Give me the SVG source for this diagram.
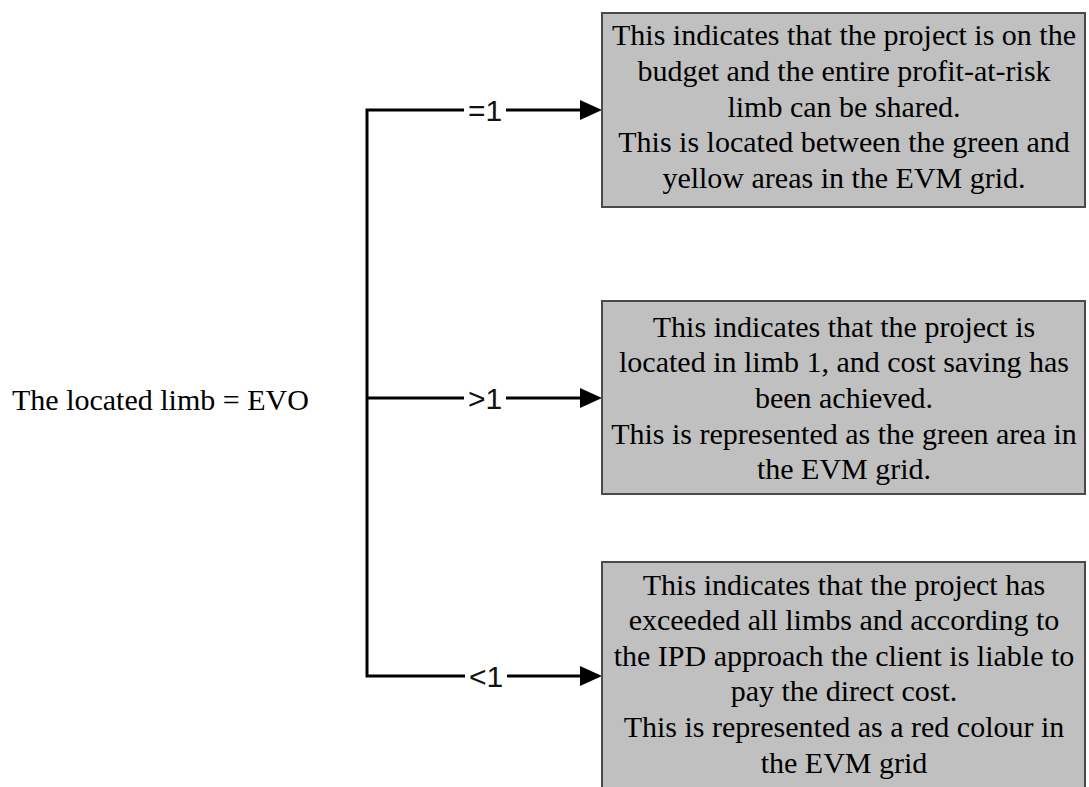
<svg xmlns="http://www.w3.org/2000/svg" width="1089" height="787" viewBox="0 0 1089 787">
  <style>
    .box { fill: #c0c0c0; stroke: #4a4a4a; stroke-width: 2; }
    .t { font-family: "Liberation Serif", "Times New Roman", serif; font-size: 30px; fill: #000; text-anchor: middle; }
    .lt { font-family: "Liberation Serif", "Times New Roman", serif; font-size: 30px; fill: #000; }
    .conn { fill: none; stroke: #000; stroke-width: 3; stroke-linejoin: miter; stroke-linecap: butt; }
    .lbl { font-family: "Liberation Sans", Arial, sans-serif; font-size: 30px; fill: #111; text-anchor: middle; }
    .lblbg { fill: #fff; }
  </style>
  <defs>
    <marker id="arrow" markerUnits="userSpaceOnUse" markerWidth="22" markerHeight="20" refX="0" refY="10" orient="auto" viewBox="0 0 22 20">
      <path d="M0,0 L22,10 L0,20 z" fill="#000"/>
    </marker>
  </defs>
  <rect width="1089" height="787" fill="#fff"/>

  <g id="source">
    <text class="lt" x="12" y="410">The located limb = EVO</text>
  </g>

  <g id="connectors">
    <path class="conn" d="M367,398 V110 H580" marker-end="url(#arrow)"/>
    <path class="conn" d="M367,398 H580" marker-end="url(#arrow)"/>
    <path class="conn" d="M367,398 V676 H580" marker-end="url(#arrow)"/>
    <rect class="lblbg" x="464" y="97" width="42" height="28"/>
    <text class="lbl" x="485" y="121">=1</text>
    <rect class="lblbg" x="464" y="385" width="42" height="28"/>
    <text class="lbl" x="485" y="409">&gt;1</text>
    <rect class="lblbg" x="465" y="663" width="42" height="28"/>
    <text class="lbl" x="486" y="687">&lt;1</text>
  </g>

  <g id="box-eq1">
    <rect class="box" x="602" y="13" width="483" height="194"/>
    <text class="t" x="844" y="45">This indicates that the project is on the</text>
    <text class="t" x="844" y="81">budget and the entire profit-at-risk</text>
    <text class="t" x="844" y="117">limb can be shared.</text>
    <text class="t" x="844" y="152">This is located between the green and</text>
    <text class="t" x="844" y="188">yellow areas in the EVM grid.</text>
  </g>

  <g id="box-gt1">
    <rect class="box" x="602" y="301" width="483" height="193"/>
    <text class="t" x="844" y="337">This indicates that the project is</text>
    <text class="t" x="844" y="372">located in limb 1, and cost saving has</text>
    <text class="t" x="844" y="408">been achieved.</text>
    <text class="t" x="844" y="444">This is represented as the green area in</text>
    <text class="t" x="844" y="479">the EVM grid.</text>
  </g>

  <g id="box-lt1">
    <rect class="box" x="602" y="562" width="483" height="230"/>
    <text class="t" x="844" y="595">This indicates that the project has</text>
    <text class="t" x="844" y="630">exceeded all limbs and according to</text>
    <text class="t" x="844" y="666">the IPD approach the client is liable to</text>
    <text class="t" x="844" y="701">pay the direct cost.</text>
    <text class="t" x="844" y="737">This is represented as a red colour in</text>
    <text class="t" x="844" y="773">the EVM grid</text>
  </g>
</svg>
